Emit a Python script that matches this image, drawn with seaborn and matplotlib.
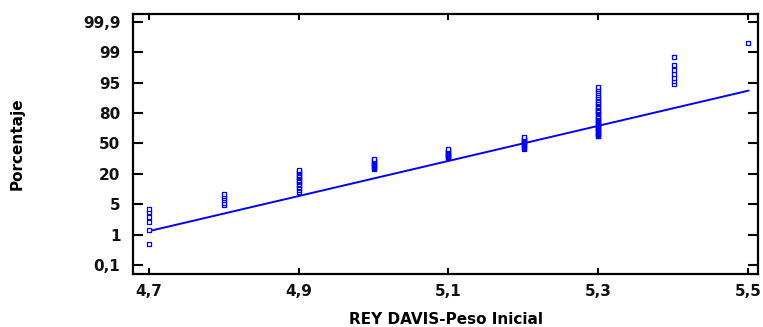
import numpy as np
import pandas as pd
import matplotlib
matplotlib.use("Agg")
import matplotlib.pyplot as plt
import seaborn as sns
from statistics import NormalDist

# Peso inicial (valores observados) y número de ejemplares en cada valor
peso = [4.7, 4.8, 4.9, 5.0, 5.1, 5.2, 5.3, 5.4, 5.5]
frecuencia = [6, 6, 17, 11, 11, 14, 42, 7, 1]

# Recta de referencia normal
recta_media = 5.20
recta_desv = 0.224

# Etiquetas del eje de probabilidad
etiquetas_pct = ["0,1", "1", "5", "20", "50", "80", "95", "99", "99,9"]
etiquetas_x = ["4,7", "4,9", "5,1", "5,3", "5,5"]
ticks_x = [4.7, 4.9, 5.1, 5.3, 5.5]

nd = NormalDist()

# Datos ordenados y posiciones de graficación (Blom)
valores = np.sort(np.repeat(peso, frecuencia))
n = len(valores)
rangos = np.arange(1, n + 1)
z = np.array([nd.inv_cdf((i - 0.375) / (n + 0.25)) for i in rangos])
df = pd.DataFrame({"peso": valores, "z": z})

# Recta
xl = np.array([peso[0], peso[-1]])
df_recta = pd.DataFrame({"peso": xl, "z": (xl - recta_media) / recta_desv})

sns.set_style("ticks")
plt.rcParams["font.family"] = ["DejaVu Sans"]
plt.rcParams["font.weight"] = "bold"
plt.rcParams["text.color"] = "black"
plt.rcParams["axes.labelcolor"] = "black"

fig = plt.figure(figsize=(7.63, 3.27), dpi=100)
ax = fig.add_axes([133 / 763, 53 / 327, 625 / 763, 260 / 327])

azul = "#0000ff"
sns.lineplot(data=df_recta, x="peso", y="z", ax=ax, color=azul, linewidth=1.4)
sns.scatterplot(data=df, x="peso", y="z", ax=ax, marker="s", s=9,
                facecolor="white", edgecolor=azul, linewidth=0.9, zorder=3)

zlim = nd.inv_cdf(0.999)
yt = np.linspace(-zlim, zlim, len(etiquetas_pct))
ax.set_ylim(-zlim - 9 / 39.4, zlim + 7.7 / 39.4)
ax.set_xlim(4.7 - 15.5 / 750, 5.5 + 9.5 / 750)

ax.set_yticks(yt)
ax.set_xticks(ticks_x)
ax.set_yticklabels([])
ax.set_xticklabels([])
ax.tick_params(axis="y", direction="in", length=7, width=1.5, right=True,
               color="black")
ax.tick_params(axis="x", direction="in", length=4, width=1.5, top=True,
               color="black")

# Rótulos de las marcas como textos del eje
for yv, lab in zip(yt, etiquetas_pct):
    ax.annotate(lab, xy=(0, yv), xycoords=("axes fraction", "data"),
                xytext=(-9, 0), textcoords="offset points",
                ha="right", va="center_baseline", fontsize=11, fontweight="bold",
                color="#111111")
for xv, lab in zip(ticks_x, etiquetas_x):
    ax.annotate(lab, xy=(xv, 0), xycoords=("data", "axes fraction"),
                xytext=(0, -7), textcoords="offset points",
                ha="center", va="top", fontsize=11, fontweight="bold",
                color="#111111")

for s in ax.spines.values():
    s.set_visible(True)
    s.set_linewidth(1.6)
    s.set_color("black")

ax.set_xlabel("REY DAVIS-Peso Inicial", fontsize=11, fontweight="bold")
ax.xaxis.set_label_coords(0.5, -0.145)
ax.set_ylabel("Porcentaje", fontsize=11, fontweight="bold")
ax.yaxis.set_label_coords(-0.174, 0.5)

fig.savefig("out.png", dpi=100)
